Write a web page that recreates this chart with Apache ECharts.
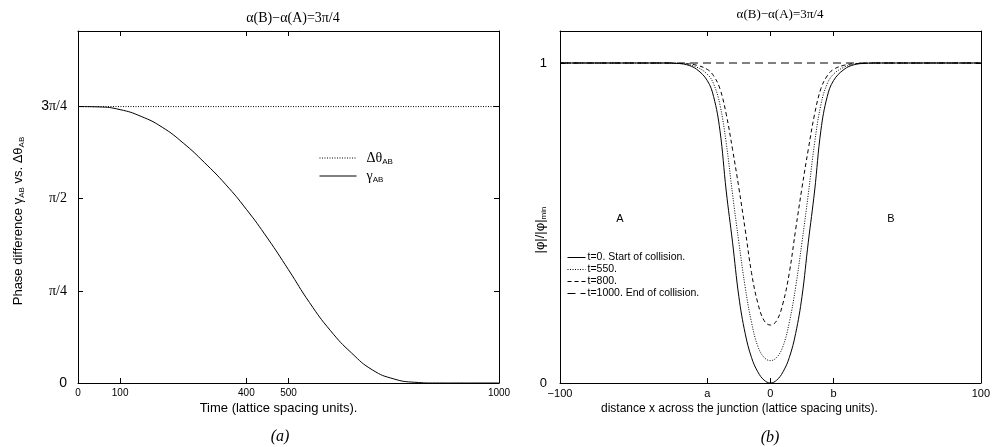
<!DOCTYPE html>
<html>
<head>
<meta charset="utf-8">
<script src="https://cdn.jsdelivr.net/npm/echarts@6/dist/echarts.min.js"></script>
<style>
html, body { margin: 0; padding: 0; background: #fff; }
#main { width: 993px; height: 447px; }
</style>
</head>
<body>
<div id="main"></div>
<script>
var PI = Math.PI;

// panel (a): phase difference vs time
var timeValues  = [0, 50, 100, 150, 200, 250, 300, 350, 400, 450, 500, 550, 600, 650, 700, 750, 800, 850, 900, 950, 1000];
var gammaValues = [2.356, 2.353, 2.33, 2.272, 2.18, 2.045, 1.88, 1.695, 1.48, 1.235, 0.965, 0.685, 0.445, 0.255, 0.11, 0.035, 0.006, 0, 0, 0, 0];
var thetaTimes  = [0, 1000];
var thetaValues = [2.356, 2.356];
var timeTicks   = [0, 100, 400, 500, 1000];
var phaseTicks  = [0, PI / 4, PI / 2, 3 * PI / 4];
var phaseLabels = ['{s|0}', '{r|π/4}', '{r|π/2}', '{s|3}{r|π/4}'];

// panel (b): |phi| across the junction
var xPositions = [-100, -60, -50, -45, -40, -35, -30, -27, -24, -21, -18, -15, -12, -9, -6, -3, 0,
                  3, 6, 9, 12, 15, 18, 21, 24, 27, 30, 35, 40, 45, 50, 60, 100];
var phiT0   = [1, 1, 1, 0.999, 0.995, 0.98, 0.945, 0.895, 0.79, 0.60, 0.44, 0.27, 0.155, 0.08, 0.035, 0.009, 0,
               0.009, 0.035, 0.08, 0.155, 0.27, 0.44, 0.60, 0.79, 0.895, 0.945, 0.98, 0.995, 0.999, 1, 1, 1];
var phiT550 = [1, 1, 1, 0.999, 0.996, 0.987, 0.965, 0.935, 0.87, 0.75, 0.59, 0.44, 0.30, 0.19, 0.115, 0.08, 0.07,
               0.08, 0.115, 0.19, 0.30, 0.44, 0.59, 0.75, 0.87, 0.935, 0.965, 0.987, 0.996, 0.999, 1, 1, 1];
var phiT800 = [1, 1, 1, 0.999, 0.998, 0.993, 0.98, 0.96, 0.92, 0.84, 0.73, 0.61, 0.48, 0.345, 0.25, 0.195, 0.181,
               0.195, 0.25, 0.345, 0.48, 0.61, 0.73, 0.84, 0.92, 0.96, 0.98, 0.993, 0.998, 0.999, 1, 1, 1];
var flatX     = [-100, 100];
var phiT1000  = [1, 1];
var distTicks  = [-100, -30, 0, 30, 100];
var distLabels = ['−100', 'a', '0', 'b', '100'];

var myChart = echarts.init(document.getElementById('main'));

function pairs(xs, ys) {
    return xs.map(function (x, i) { return [x, ys[i]]; });
}
function pickLabel(ticks, labels) {
    return function (v) {
        for (var i = 0; i < ticks.length; i++) {
            if (Math.abs(ticks[i] - v) < 1e-6) return labels[i];
        }
        return '';
    };
}

var black = '#000';
var sans = 'Liberation Sans';
var serif = 'Liberation Serif';
var subRich = {
    n: { fontFamily: sans, fontSize: 13, color: black },
    g: { fontFamily: serif, fontSize: 14, color: black },
    s: { fontFamily: sans, fontSize: 8, color: black, padding: [8, 0, 0, 0] }
};

function boxAxis(grid, pos, min, max, ticks, extra) {
    var ax = {
        gridIndex: grid,
        type: 'value',
        position: pos,
        min: min,
        max: max,
        nameMoveOverlap: false,
        axisLine: { show: true, onZero: false, lineStyle: { color: black, width: 1 } },
        axisTick: { show: true, inside: true, length: 5, customValues: ticks, lineStyle: { color: black } },
        axisLabel: { show: false },
        splitLine: { show: false }
    };
    return Object.assign(ax, extra || {});
}

var option = {
    animation: false,
    color: [black],
    title: [
        { text: 'α(B)−α(A)=3π/4', left: 288, top: 6, textAlign: 'center',
          textStyle: { fontFamily: serif, fontSize: 14, fontWeight: 'normal', color: black } },
        { text: 'α(B)−α(A)=3π/4', left: 775, top: 3, textAlign: 'center',
          textStyle: { fontFamily: serif, fontSize: 13, fontWeight: 'normal', color: black } },
        { text: '(a)', left: 275, top: 424, textAlign: 'center',
          textStyle: { fontFamily: serif, fontSize: 16, fontStyle: 'italic', fontWeight: 'normal', color: black } },
        { text: '(b)', left: 765, top: 425, textAlign: 'center',
          textStyle: { fontFamily: serif, fontSize: 16, fontStyle: 'italic', fontWeight: 'normal', color: black } }
    ],
    legend: [
        {
            data: ['dtheta', 'gamma'],
            orient: 'vertical',
            left: 314,
            top: 146,
            itemWidth: 37,
            itemHeight: 12,
            itemGap: 3,
            selectedMode: false,
            itemStyle: { opacity: 0 },
            lineStyle: { width: 1 },
            formatter: function (name) {
                return name === 'dtheta' ? '{g|Δθ}{s|AB}' : '{g|γ}{s|AB}';
            },
            textStyle: { padding: [0, 0, 0, 5], rich: subRich }
        },
        {
            data: ['t=0. Start of collision.', 't=550.', 't=800.', 't=1000. End of collision.'],
            orient: 'vertical',
            left: 562,
            top: 247,
            itemWidth: 18,
            itemHeight: 8,
            itemGap: 1,
            selectedMode: false,
            itemStyle: { opacity: 0 },
            lineStyle: { width: 1 },
            textStyle: { fontFamily: sans, fontSize: 10.5, color: black, padding: [0, 0, 0, -3] }
        }
    ],
    grid: [
        { left: 78, top: 31, width: 421, height: 352 },
        { left: 560, top: 31, width: 423, height: 352 }
    ],
    xAxis: [
        boxAxis(0, 'bottom', 0, 1000, timeTicks, {
            axisLabel: { show: true, customValues: timeTicks, formatter: function (v) { return String(v); },
                         fontFamily: sans, fontSize: 10, color: black, margin: 5 },
            name: 'Time (lattice spacing units).',
            nameLocation: 'middle',
            nameGap: 19,
            nameTextStyle: { fontFamily: sans, fontSize: 13, color: black, padding: [0, 20, 0, 0] }
        }),
        boxAxis(0, 'top', 0, 1000, timeTicks),
        boxAxis(1, 'bottom', -100, 100, distTicks, {
            axisLabel: { show: true, customValues: distTicks, formatter: pickLabel(distTicks, distLabels),
                         fontFamily: sans, fontSize: 11, color: black, margin: 5 },
            name: 'distance x across the junction (lattice spacing units).',
            nameLocation: 'middle',
            nameGap: 20,
            nameTextStyle: { fontFamily: sans, fontSize: 12, color: black, padding: [0, 62, 0, 0] }
        }),
        boxAxis(1, 'top', -100, 100, distTicks)
    ],
    yAxis: [
        boxAxis(0, 'left', 0, 3, phaseTicks, {
            axisLabel: { show: true, customValues: phaseTicks, formatter: pickLabel(phaseTicks, phaseLabels),
                         margin: 11,
                         rich: {
                             s: { fontFamily: sans, fontSize: 14, color: black },
                             r: { fontFamily: serif, fontSize: 14, color: black }
                         } },
            name: '{n|Phase difference γ}{s|AB}{n| vs. Δθ}{s|AB}',
            nameLocation: 'middle',
            nameGap: 52,
            nameTextStyle: { rich: subRich, padding: [0, 28, 0, 0] }
        }),
        boxAxis(0, 'right', 0, 3, phaseTicks),
        boxAxis(1, 'left', 0, 1.1, [0, 1], {
            axisLabel: { show: true, customValues: [0, 1], fontFamily: sans, fontSize: 13, color: black, margin: 13 },
            name: '{n||φ|/|φ|}{s|min}',
            nameLocation: 'middle',
            nameGap: 12,
            nameTextStyle: { rich: subRich, padding: [0, 46, 0, 0] }
        }),
        boxAxis(1, 'right', 0, 1.1, [0, 1])
    ],
    graphic: [
        { type: 'text', x: 620, y: 219, style: { text: 'A', fontFamily: sans, fontSize: 11, fill: black, align: 'center', verticalAlign: 'middle' } },
        { type: 'text', x: 891, y: 219, style: { text: 'B', fontFamily: sans, fontSize: 11, fill: black, align: 'center', verticalAlign: 'middle' } }
    ],
    series: [
        {
            name: 'dtheta', type: 'line', xAxisIndex: 0, yAxisIndex: 0,
            symbol: 'none', data: pairs(thetaTimes, thetaValues),
            lineStyle: { color: black, width: 1, type: [1, 1.5] }
        },
        {
            name: 'gamma', type: 'line', xAxisIndex: 0, yAxisIndex: 0,
            symbol: 'none', smooth: 0.5, data: pairs(timeValues, gammaValues),
            lineStyle: { color: black, width: 1 }
        },
        {
            name: 't=0. Start of collision.', type: 'line', xAxisIndex: 2, yAxisIndex: 2,
            symbol: 'none', smooth: 0.4, data: pairs(xPositions, phiT0),
            lineStyle: { color: black, width: 1 }
        },
        {
            name: 't=550.', type: 'line', xAxisIndex: 2, yAxisIndex: 2,
            symbol: 'none', smooth: 0.4, data: pairs(xPositions, phiT550),
            lineStyle: { color: black, width: 1, type: [1, 1.5] }
        },
        {
            name: 't=800.', type: 'line', xAxisIndex: 2, yAxisIndex: 2,
            symbol: 'none', smooth: 0.4, data: pairs(xPositions, phiT800),
            lineStyle: { color: black, width: 1, type: [4, 3] }
        },
        {
            name: 't=1000. End of collision.', type: 'line', xAxisIndex: 2, yAxisIndex: 2,
            symbol: 'none', data: pairs(flatX, phiT1000),
            lineStyle: { color: black, width: 1, type: [8, 5] }
        }
    ]
};

myChart.setOption(option);
</script>
</body>
</html>
